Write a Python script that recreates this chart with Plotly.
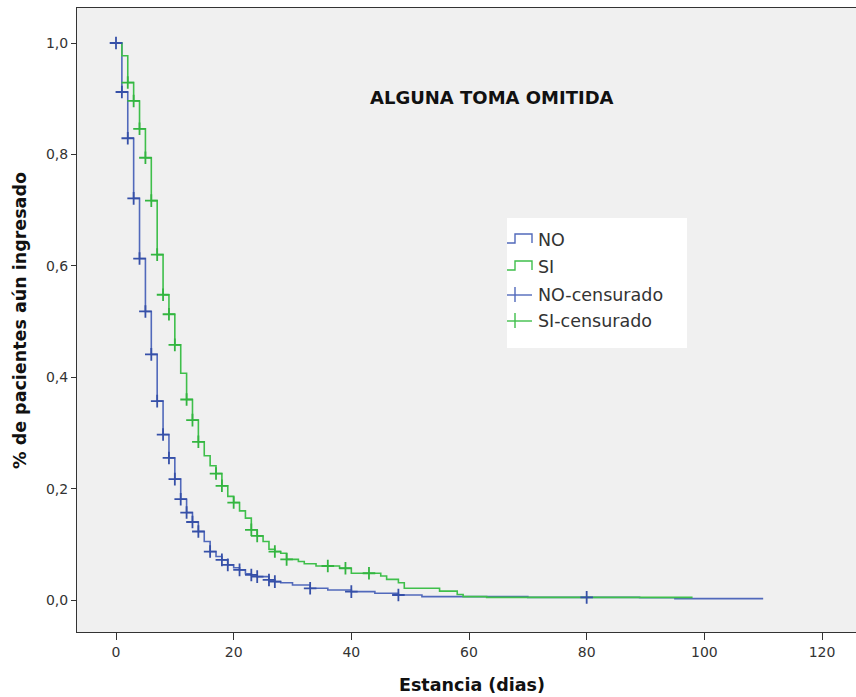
import numpy as np
import plotly.graph_objects as go

# ---- data ----
no_times = [0, 1, 2, 3, 4, 5, 6, 7, 8, 9, 10, 11, 12, 13, 14, 15, 16, 17, 18, 19, 20,
            21, 22, 23, 24, 26, 27, 28, 30, 33, 36, 40, 44, 48, 52, 70, 89, 95]
no_surv = [1.0, 0.912, 0.829, 0.721, 0.613, 0.518, 0.441, 0.357, 0.297, 0.255, 0.217,
           0.181, 0.157, 0.140, 0.123, 0.105, 0.087, 0.078, 0.072, 0.063, 0.058,
           0.054, 0.047, 0.045, 0.042, 0.036, 0.033, 0.031, 0.027, 0.021, 0.018,
           0.015, 0.012, 0.009, 0.006, 0.0048, 0.004, 0.0024]
no_end = 110
no_censored = [0, 1, 2, 3, 4, 5, 6, 7, 8, 9, 10, 11, 12, 13, 14, 16, 18, 19, 21, 23,
               24, 26, 27, 33, 40, 48, 80]

si_times = [0, 1, 2, 3, 4, 5, 6, 7, 8, 9, 10, 11, 12, 13, 14, 15, 16, 17, 18, 19, 20,
            21, 22, 23, 24, 25, 26, 27, 28, 29, 31, 32, 34, 38, 40, 45, 46, 48, 49,
            55, 58, 59, 63]
si_surv = [1.0, 0.977, 0.929, 0.896, 0.846, 0.794, 0.717, 0.620, 0.548, 0.513, 0.458,
           0.407, 0.360, 0.323, 0.284, 0.259, 0.241, 0.227, 0.205, 0.186, 0.175,
           0.160, 0.147, 0.126, 0.115, 0.105, 0.091, 0.087, 0.084, 0.073, 0.069,
           0.065, 0.061, 0.057, 0.048, 0.043, 0.037, 0.031, 0.021, 0.016, 0.010,
           0.006, 0.0048]
si_end = 98
si_censored = [2, 3, 4, 5, 6, 7, 8, 9, 10, 12, 13, 14, 17, 18, 20, 23, 24, 27, 29,
               36, 39, 43]

x_ticks = [0, 20, 40, 60, 80, 100, 120]
y_ticks = [0.0, 0.2, 0.4, 0.6, 0.8, 1.0]
y_ticklabels = ["0,0", "0,2", "0,4", "0,6", "0,8", "1,0"]

BLUE_LINE = "#5169bb"
BLUE_MARK = "#3650a8"
GREEN_LINE = "#3fbf4b"
GREEN_MARK = "#33b540"
FONT = "DejaVu Sans"


def level_at(times, surv, c):
    idx = np.searchsorted(np.array(times), c, side="right") - 1
    return np.array(surv)[idx]


fig = go.Figure()

for times, surv, end, col in [(no_times, no_surv, no_end, BLUE_LINE),
                              (si_times, si_surv, si_end, GREEN_LINE)]:
    fig.add_trace(go.Scatter(
        x=list(times) + [end], y=list(surv) + [surv[-1]],
        mode="lines", line=dict(shape="hv", color=col, width=1.6),
        showlegend=False, hoverinfo="skip"))

for times, surv, cens, col in [(no_times, no_surv, no_censored, BLUE_MARK),
                               (si_times, si_surv, si_censored, GREEN_MARK)]:
    fig.add_trace(go.Scatter(
        x=cens, y=level_at(times, surv, cens), mode="markers",
        marker=dict(symbol="cross-thin", size=9, line=dict(color=col, width=1.8)),
        showlegend=False, hoverinfo="skip"))

# plot area geometry (pixels)
L, R, T, B = 77, 856, 8, 632
W, H = 856, 697


def px(xp):
    return (xp - L) / (R - L)


def py(yp):
    return (B - yp) / (B - T)


shapes = []
annotations = []

# legend box
shapes.append(dict(type="rect", xref="paper", yref="paper",
                   x0=px(507), x1=px(687), y0=py(348), y1=py(218),
                   fillcolor="white", line=dict(width=0), layer="above"))

legend_rows = [("NO", 240, BLUE_LINE, "step"), ("SI", 267, GREEN_LINE, "step"),
               ("NO-censurado", 295, BLUE_LINE, "cross"),
               ("SI-censurado", 321, GREEN_LINE, "cross")]
for label, yc, col, kind in legend_rows:
    if kind == "step":
        path = "M {:.5f},{:.5f} L {:.5f},{:.5f} L {:.5f},{:.5f} L {:.5f},{:.5f} L {:.5f},{:.5f}".format(
            px(507), py(yc + 3), px(515), py(yc + 3), px(515), py(yc - 6),
            px(532), py(yc - 6), px(532), py(yc + 3))
        shapes.append(dict(type="path", xref="paper", yref="paper", path=path,
                           line=dict(color=col, width=1.4), layer="above"))
    else:
        shapes.append(dict(type="line", xref="paper", yref="paper",
                           x0=px(507), x1=px(532), y0=py(yc), y1=py(yc),
                           line=dict(color=col, width=1.4), layer="above"))
        shapes.append(dict(type="line", xref="paper", yref="paper",
                           x0=px(515), x1=px(515), y0=py(yc - 8), y1=py(yc + 7),
                           line=dict(color=col, width=1.4), layer="above"))
    annotations.append(dict(text=label, xref="paper", yref="paper",
                            x=px(536), y=py(yc), xanchor="left", yanchor="middle",
                            showarrow=False,
                            font=dict(family=FONT, size=17.5, color="#333333")))

# title
annotations.append(dict(text="<b>ALGUNA TOMA OMITIDA</b>", xref="paper", yref="paper",
                        x=px(492), y=py(97), xanchor="center", yanchor="middle",
                        showarrow=False, font=dict(family=FONT, size=18, color="#111111")))
# axis titles
annotations.append(dict(text="<b>Estancia (dias)</b>", xref="paper", yref="paper",
                        x=px(472), y=py(685), xanchor="center", yanchor="middle",
                        showarrow=False, font=dict(family=FONT, size=17.5, color="#111111")))
annotations.append(dict(text="<b>% de pacientes aún ingresado</b>", xref="paper", yref="paper",
                        x=px(20), y=py(321), xanchor="center", yanchor="middle",
                        textangle=-90, showarrow=False,
                        font=dict(family=FONT, size=17.5, color="#111111")))

xscale = (822 - 116) / 120.0
yscale = (600 - 43) / 1.0
x0 = (L - 116) / xscale
x1 = (R - 116) / xscale
y0 = (600 - B) / yscale
y1 = (600 - T) / yscale

fig.update_layout(
    width=W, height=H,
    margin=dict(l=L, r=W - R, t=T, b=H - B),
    paper_bgcolor="white", plot_bgcolor="#f0f0f0",
    shapes=shapes, annotations=annotations,
    font=dict(family=FONT, color="#333333"),
    xaxis=dict(range=[x0, x1], tickvals=x_ticks, ticks="outside", ticklen=7,
               tickcolor="#333333", showgrid=False, zeroline=False,
               showline=True, linecolor="#333333", linewidth=1, mirror=True,
               tickfont=dict(family=FONT, size=14, color="#333333")),
    yaxis=dict(range=[y0, y1], tickvals=y_ticks, ticktext=y_ticklabels,
               ticks="outside", ticklen=5, tickcolor="#333333", showgrid=False,
               zeroline=False, showline=True, linecolor="#333333", linewidth=1,
               mirror=True, tickfont=dict(family=FONT, size=14, color="#333333")),
)

fig.write_html("out.html")
